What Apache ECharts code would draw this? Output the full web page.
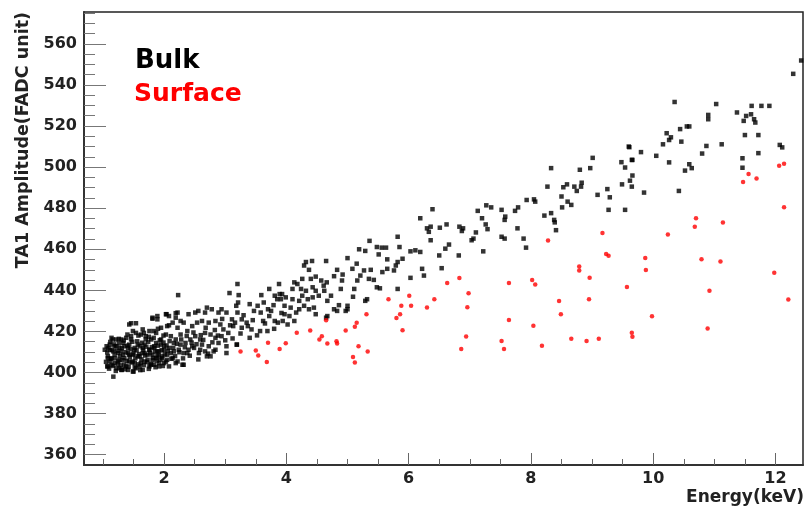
<!DOCTYPE html>
<html>
<head>
<meta charset="utf-8">
<script src="https://cdn.jsdelivr.net/npm/echarts@6/dist/echarts.min.js"></script>
<style>
  html, body { margin: 0; padding: 0; background: #fff; }
  #chart { width: 805px; height: 511px; }
</style>
</head>
<body>
<div id="chart"></div>
<script>
// tick labels
const xTickLabels = [2, 4, 6, 8, 10, 12];
const xMinorTicks = [1, 1.5, 2.5, 3, 3.5, 4.5, 5, 5.5, 6.5, 7, 7.5, 8.5, 9, 9.5, 10.5, 11, 11.5, 12.5];
const yTickLabels = [360, 380, 400, 420, 440, 460, 480, 500, 520, 540, 560];
const yMinorTicks = [365, 370, 375, 385, 390, 395, 405, 410, 415, 425, 430, 435, 445, 450, 455,
  465, 470, 475, 485, 490, 495, 505, 510, 515, 525, 530, 535, 545, 550, 555, 565, 570, 575];

// Bulk: [energy keV, amplitude]
const bulkPoints = [
  [3.20,443.1],[3.22,437.7],[3.07,438.7],[2.23,437.7],[3.72,440.7],[3.88,443.1],[3.81,437.4],[3.59,437.7],
  [3.63,434.1],[3.21,434.1],[3.18,432.5],[3.40,433.3],[3.47,430.0],[3.53,432.5],[3.70,430.8],[3.79,432.8],
  [3.85,435.7],[3.89,438.2],[3.58,429.2],[3.62,425.1],[3.72,427.5],[3.81,425.1],[3.86,424.3],[3.69,420.2],
  [3.57,420.2],[3.40,416.9],[3.43,421.0],[3.35,424.3],[3.27,425.9],[3.20,429.2],[3.16,424.3],[3.11,425.9],
  [3.02,429.2],[2.94,430.8],[2.89,429.2],[2.78,430.8],[2.70,431.6],[2.67,429.2],[2.56,430.0],[2.51,429.2],
  [2.40,428.4],[2.32,424.3],[2.22,429.2],[2.19,426.7],[2.08,427.5],[2.03,428.4],[1.89,427.5],[1.81,426.2],
  [1.46,424.0],[1.54,424.0],[1.65,421.0],[1.76,420.2],[1.87,419.3],[1.95,421.8],[2.05,422.6],[2.14,424.3],
  [2.22,421.8],[2.27,418.5],[2.38,420.2],[2.46,422.6],[2.54,424.3],[2.62,425.1],[2.73,424.3],[2.84,425.1],
  [2.92,423.4],[2.97,421.0],[3.05,419.3],[3.13,422.6],[3.27,421.8],[3.37,422.6],[3.19,413.6],[3.02,412.8],
  [2.94,417.7],[2.84,416.9],[2.76,418.5],[2.67,419.3],[2.59,416.1],[2.51,417.7],[2.43,416.1],[2.35,414.4],
  [2.27,413.6],[2.19,416.1],[2.11,417.7],[2.03,418.5],[1.95,416.1],[1.87,414.4],[1.79,416.1],[1.70,417.7],
  [1.62,418.5],[1.54,419.3],[1.46,417.7],[1.38,416.9],[1.30,416.1],[1.22,416.1],[1.14,416.9],[1.11,413.6],
  [1.19,412.8],[1.27,412.0],[1.35,412.8],[1.43,413.6],[1.52,412.0],[1.60,412.8],[1.68,413.6],[1.76,411.1],
  [1.84,412.0],[1.92,410.3],[2.00,412.8],[2.08,412.0],[2.16,410.3],[2.24,411.1],[2.32,409.5],[2.40,411.1],
  [2.49,412.0],[2.57,409.5],[2.67,410.3],[2.76,407.9],[2.84,411.1],[2.73,412.8],[2.62,413.6],[2.14,407.0],
  [2.05,408.7],[1.97,407.0],[1.89,407.9],[1.81,406.2],[1.73,408.7],[1.65,409.5],[1.57,407.9],[1.49,408.7],
  [1.41,409.5],[1.33,408.7],[1.25,409.5],[1.17,410.3],[1.08,407.9],[1.11,405.4],[1.19,404.6],[1.27,406.2],
  [1.35,403.8],[1.43,405.4],[1.52,404.6],[1.60,403.0],[1.68,405.4],[1.76,403.0],[1.84,403.8],[1.92,403.0],
  [2.00,404.6],[2.08,403.0],[2.19,404.6],[2.32,403.8],[1.22,402.1],[1.30,401.3],[1.41,401.3],[1.49,400.5],
  [1.65,401.3],[1.17,398.0],[1.08,403.0],[1.14,407.0],[1.03,411.1],[1.06,412.8],
  [1.08,407.0],[1.11,411.1],[1.14,403.8],[1.19,408.7],[1.22,412.8],[1.25,405.4],[1.27,402.1],[1.30,410.3],
  [1.33,414.4],[1.35,407.0],[1.38,403.0],[1.41,412.0],[1.43,408.7],[1.46,416.1],[1.49,405.4],[1.51,411.1],
  [1.54,402.1],[1.57,413.6],[1.60,407.9],[1.62,404.6],[1.65,412.0],[1.68,409.5],[1.70,416.1],[1.73,406.2],
  [1.76,411.1],[1.78,403.8],[1.81,408.7],[1.84,412.8],[1.87,407.0],[1.89,410.3],[1.92,404.6],[1.95,413.6],
  [1.97,407.9],[2.00,411.1],[2.05,406.2],[2.11,409.5],[2.16,414.4],[2.22,405.4],[2.30,403.8],[2.38,409.5],
  [2.46,412.8],[2.59,411.1],[2.70,407.9],[2.81,410.3],[2.89,414.4],[3.02,409.5],[3.19,413.6],[1.16,416.1],
  [1.07,403.0],[1.31,401.3],[1.50,400.5],[1.09,412.0],[1.26,416.4],[1.40,418.5],[1.49,420.2],[1.58,418.0],
  [1.67,419.3],[1.75,417.4],[1.83,420.2],[1.90,421.3],[1.99,418.0],[2.08,423.0],[2.19,428.9],[2.27,425.1],
  [1.89,425.9],[1.81,426.7],[1.43,423.4],[2.04,428.4],
  [1.05,405.2],[1.07,409.8],[1.10,401.9],[1.12,414.9],[1.13,406.6],[1.15,410.9],[1.16,403.2],[1.18,413.7],
  [1.20,406.9],[1.21,400.8],[1.23,410.6],[1.24,404.3],[1.26,414.2],[1.28,408.0],[1.29,403.5],[1.31,411.8],
  [1.32,406.0],[1.34,415.6],[1.36,401.6],[1.37,409.9],[1.39,405.7],[1.40,413.1],[1.42,402.9],[1.44,407.6],
  [1.45,411.4],[1.47,404.9],[1.48,415.0],[1.50,409.2],[1.52,402.6],[1.53,406.9],[1.55,410.8],[1.56,415.2],
  [1.58,404.0],[1.59,409.0],[1.61,401.2],[1.63,406.4],[1.64,414.5],[1.66,411.2],[1.67,403.6],[1.69,408.3],
  [1.71,412.6],[1.72,405.1],[1.74,415.0],[1.75,401.8],[1.77,409.4],[1.79,404.1],[1.80,412.4],[1.82,407.1],
  [1.83,416.9],[1.85,410.2],[1.86,402.6],[1.88,405.8],[1.90,413.1],[1.91,408.5],[1.93,415.7],[1.94,406.3],
  [1.96,410.9],[1.98,403.2],[1.99,414.6],[2.01,408.9],[2.03,405.3],[2.04,413.2],[2.06,410.6],[2.09,415.3],
  [2.12,406.7],[2.15,412.0],[2.18,408.0],[2.21,414.0],[2.25,409.9],[2.28,416.1],[2.31,406.9],[2.34,412.3],
  [2.37,417.8],[2.42,408.2],[2.45,414.6],[2.48,419.5],[2.53,413.8],[2.56,406.4],[2.60,418.2],[2.64,415.9],
  [2.68,421.8],[2.72,409.2],[2.79,414.7],[2.83,420.7],[2.88,418.0],[2.95,426.1],[3.00,415.7],[3.08,423.0],
  [3.12,416.6],[3.25,419.0],[3.30,427.9],[3.45,425.5],[3.52,418.1],[3.65,423.9],[3.75,430.0],[3.80,421.3],
  [3.92,429.0],
  [6.39,479.5],[6.19,475.1],[6.30,470.2],[6.33,468.5],[6.36,471.0],[6.51,470.5],[6.62,472.1],[6.36,464.4],
  [5.82,466.1],[5.36,464.1],[5.19,460.0],[5.29,459.2],[5.48,461.1],[5.56,460.8],[5.63,460.8],[5.85,461.1],
  [6.03,459.0],[6.11,459.5],[6.19,458.7],[6.50,457.0],[6.60,460.3],[6.66,462.3],[5.00,455.7],[4.65,454.3],
  [4.42,454.3],[4.32,453.8],[5.51,457.5],[5.65,455.1],[5.82,453.8],[5.90,455.4],[5.79,452.1],[5.15,453.0],
  [5.27,449.7],[5.38,450.0],[5.21,447.2],[5.35,445.6],[5.43,445.1],[5.16,444.8],[5.08,450.5],[4.83,450.0],
  [4.78,446.9],[4.91,444.8],[4.92,447.7],[5.65,450.5],[5.76,449.7],[6.03,446.1],[6.22,450.5],[6.25,447.2],
  [6.54,450.8],[5.53,441.0],[5.48,441.5],[5.82,440.7],[5.32,435.7],[5.09,436.9],[4.97,430.0],[4.86,432.8],
  [4.67,434.9],[4.73,437.4],[4.61,442.3],[4.66,443.9],[4.57,444.8],[4.48,446.7],[4.37,450.0],[4.29,452.1],
  [4.40,445.6],[4.26,445.6],[4.18,443.1],[4.13,443.9],[4.10,440.7],[4.24,440.7],[4.32,439.8],[4.43,441.5],
  [4.48,439.8],[4.62,439.8],[4.53,437.4],[4.43,436.6],[4.35,435.7],[4.21,434.9],[4.10,435.7],[3.99,436.6],
  [3.93,438.2],[3.91,435.7],[3.97,432.5],[4.07,431.6],[4.16,429.2],[4.29,432.5],[4.37,430.8],[4.45,431.6],
  [4.48,428.4],[4.67,427.5],[4.65,426.7],[4.78,430.8],[3.97,428.4],[4.05,427.5],[4.13,425.1],[4.02,423.4],
  [3.94,425.1],[4.21,430.8],[4.26,437.4],[4.89,440.7],[5.11,440.7],[5.00,430.8],[4.83,430.0],[5.29,434.9],
  [5.00,432.5],[5.57,448.9],
  [9.60,510.0],[9.01,504.5],[9.48,502.4],[9.65,503.5],[9.54,499.8],[8.33,499.5],[8.80,498.7],[8.97,499.5],
  [9.66,495.9],[9.62,493.4],[9.49,491.6],[9.65,490.5],[8.83,492.4],[8.82,490.5],[8.71,490.5],[8.75,488.4],
  [8.59,491.6],[8.53,490.2],[8.27,490.5],[9.25,489.3],[9.09,486.5],[9.29,485.3],[9.27,479.2],[9.54,479.2],
  [8.50,485.7],[8.60,483.2],[8.66,481.6],[8.51,480.4],[8.33,477.6],[8.22,476.4],[8.38,474.3],[8.39,473.1],
  [8.41,469.3],[7.93,484.0],[8.05,484.3],[8.07,483.2],[7.27,481.4],[7.35,480.4],[7.52,479.2],[7.74,478.7],
  [7.79,480.4],[7.13,478.7],[7.20,475.1],[7.58,475.9],[7.57,474.3],[7.26,472.1],[7.29,469.8],[7.78,470.2],
  [6.83,471.0],[6.89,470.2],[6.87,468.9],[7.10,468.2],[7.06,465.2],[7.03,464.4],[7.52,466.1],[7.57,465.2],
  [7.88,465.2],[7.92,460.8],[7.22,459.0],[6.82,457.0],
  [12.42,551.9],[12.29,545.4],[10.35,531.7],[11.03,530.7],[11.61,529.8],[11.77,529.8],[11.90,529.8],[11.37,526.6],
  [11.52,524.9],[11.60,525.7],[11.48,522.5],[11.65,523.3],[11.67,521.7],[10.90,525.4],[10.90,523.3],[10.59,519.8],
  [10.55,519.8],[10.44,518.5],[10.22,516.5],[10.29,514.5],[10.26,513.2],[10.46,512.4],[10.16,511.1],[11.50,515.6],
  [11.72,515.6],[12.07,510.8],[12.11,509.6],[10.87,510.3],[11.12,511.1],[9.80,507.3],[9.66,503.5],[9.61,509.7],
  [10.05,505.5],[10.26,502.3],[10.80,506.6],[11.72,506.8],[11.46,504.3],[10.59,501.4],[10.63,499.5],[10.52,498.3],
  [11.46,499.7],[9.85,487.6],[10.42,488.4]
];

// Surface: [energy keV, amplitude]
const surfacePoints = [
  [3.25,410.3],[3.50,410.7],[3.54,408.3],[3.68,405.1],[3.70,414.5],[3.89,411.5],[3.99,414.3],[4.17,419.4],
  [4.39,420.5],[4.54,416.1],[4.58,417.7],[4.65,425.4],[4.67,414.1],[4.82,415.2],[4.83,414.1],[4.97,420.5],
  [5.09,407.6],[5.12,422.3],[5.12,404.9],[5.15,424.3],[5.18,412.8],[5.31,428.4],[5.33,410.3],[5.67,435.7],
  [5.80,426.6],[5.86,428.4],[5.88,432.5],[5.90,420.6],[6.01,437.4],[6.04,432.5],[6.30,431.7],[6.42,435.7],
  [6.63,443.6],[6.83,446.0],[6.86,411.5],[6.94,417.5],[6.96,431.8],[6.98,438.6],[7.52,415.4],[7.56,411.5],
  [7.64,443.6],[7.64,425.6],[8.02,445.1],[8.04,422.8],[8.07,442.8],[8.18,413.1],[8.28,464.3],[8.46,434.8],
  [8.49,428.4],[8.66,416.4],[8.79,451.6],[8.79,449.7],[8.91,415.4],[8.95,435.7],[8.96,446.1],[9.11,416.4],
  [9.17,467.9],[9.23,457.7],[9.27,456.9],[9.57,441.7],[9.65,419.4],[9.66,417.4],[9.87,455.8],[9.88,449.9],
  [9.98,427.4],[10.24,467.2],[10.68,471.0],[10.70,475.1],[10.79,455.1],[10.89,421.5],[10.92,439.8],[11.10,454.1],
  [11.14,473.0],[11.47,492.8],[11.56,496.7],[11.69,494.5],[11.98,448.6],[12.06,500.7],[12.14,501.6],[12.14,480.5],
  [12.21,435.5]
];

const font = "'DejaVu Sans', Verdana, sans-serif";
const X_MIN = 0.69, X_MAX = 12.45;
const Y_MIN = 355, Y_MAX = 575.5;

const chart = echarts.init(document.getElementById('chart'));

const option = {
  animation: false,
  backgroundColor: '#fff',
  grid: {
    left: 84, right: 2, top: 12, bottom: 46,
    show: true, borderColor: '#222', borderWidth: 1.5
  },
  xAxis: [
    {
      type: 'value', min: X_MIN, max: X_MAX,
      axisLine: { show: true, onZero: false, lineStyle: { color: '#333', width: 2 } },
      axisTick: { show: true, inside: true, length: 12, customValues: xTickLabels, lineStyle: { color: '#666' } },
      axisLabel: {
        customValues: xTickLabels, margin: 6,
        color: '#222', fontFamily: font, fontWeight: 'bold', fontSize: 16
      },
      splitLine: { show: false }
    },
    {
      // minor ticks
      type: 'value', min: X_MIN, max: X_MAX, position: 'bottom',
      axisLine: { show: false },
      axisTick: { show: true, inside: true, length: 6, customValues: xMinorTicks, lineStyle: { color: '#666' } },
      axisLabel: { show: false },
      splitLine: { show: false }
    }
  ],
  yAxis: [
    {
      type: 'value', min: Y_MIN, max: Y_MAX,
      axisLine: { show: true, onZero: false, lineStyle: { color: '#333', width: 2 } },
      axisTick: { show: true, inside: true, length: 22, customValues: yTickLabels, lineStyle: { color: '#777' } },
      axisLabel: {
        customValues: yTickLabels, margin: 7,
        color: '#222', fontFamily: font, fontWeight: 'bold', fontSize: 16
      },
      splitLine: { show: false }
    },
    {
      // minor ticks
      type: 'value', min: Y_MIN, max: Y_MAX, position: 'left',
      axisLine: { show: false },
      axisTick: { show: true, inside: true, length: 11, customValues: yMinorTicks, lineStyle: { color: '#777' } },
      axisLabel: { show: false },
      splitLine: { show: false }
    }
  ],
  graphic: [
    {
      type: 'text', x: 135, y: 61,
      style: { text: 'Bulk', fill: '#000', font: 'bold 26px ' + font, textVerticalAlign: 'middle' }
    },
    {
      type: 'text', x: 134, y: 94,
      style: { text: 'Surface', fill: '#ff0000', font: 'bold 25px ' + font, textVerticalAlign: 'middle' }
    },
    {
      type: 'text', x: 23, y: 12, rotation: Math.PI / 2,
      style: {
        text: 'TA1 Amplitude(FADC unit)', fill: '#222', font: 'bold 17.5px ' + font,
        textAlign: 'right', textVerticalAlign: 'middle'
      }
    },
    {
      type: 'text', x: 804, y: 498,
      style: {
        text: 'Energy(keV)', fill: '#222', font: 'bold 17px ' + font,
        textAlign: 'right', textVerticalAlign: 'middle'
      }
    }
  ],
  series: [
    {
      name: 'Bulk', type: 'scatter', data: bulkPoints,
      symbol: 'rect', symbolSize: 4.5,
      itemStyle: { color: '#000' }
    },
    {
      name: 'Surface', type: 'scatter', data: surfacePoints,
      symbol: 'circle', symbolSize: 4.5,
      itemStyle: { color: '#ff0000' }
    }
  ]
};

chart.setOption(option);
</script>
</body>
</html>
